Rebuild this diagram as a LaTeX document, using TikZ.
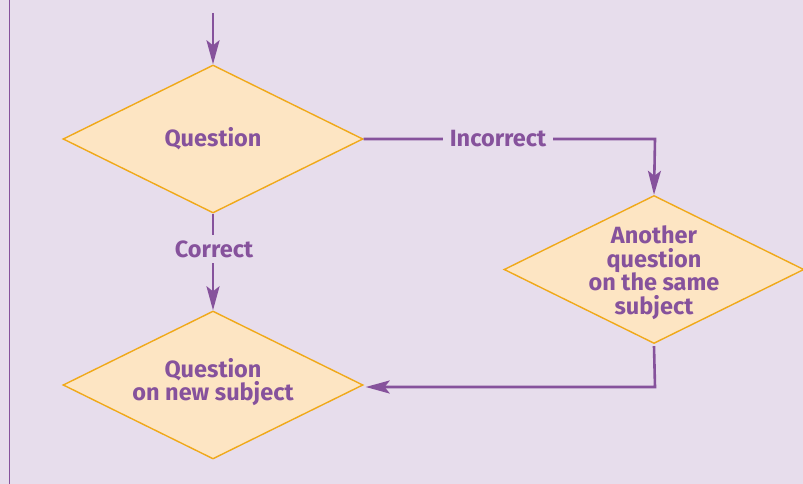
\documentclass[tikz,border=0pt]{standalone}
\usepackage{fontspec}
\setmainfont{Fira Sans}
\usetikzlibrary{shapes.geometric,arrows.meta}
\definecolor{bgc}{HTML}{E7DDEC}
\definecolor{purp}{HTML}{86529C}
\definecolor{dfill}{HTML}{FDE5C3}
\definecolor{dline}{HTML}{F0A91A}
\begin{document}
\begin{tikzpicture}[x=1pt,y=-1pt,
  dia/.style={diamond,draw=dline,fill=dfill,line width=1.4pt,inner sep=0pt,
    minimum width=300pt,minimum height=148pt},
  txt/.style={text=purp,font=\bfseries\fontsize{23.5}{23.5}\selectfont,align=center,inner sep=0pt},
  conn/.style={draw=purp,line width=2.6pt,-{Stealth[length=24pt,width=13pt,inset=5pt]}},
  lbl/.style={txt,fill=bgc,inner xsep=7pt,inner ysep=5pt}]
\fill[bgc] (0,0) rectangle (803,484);
\useasboundingbox (0,0) rectangle (803,484);
\draw[purp,line width=1.5pt] (9.5,0) -- (9.5,484);
\node[dia] (q1) at (213,139) {};
\node[txt] at (q1) {Question};
\node[dia] (q2) at (213,385) {};
\node[txt] at ([yshift=3pt]q2.center) {Question\\on new subject};
\node[dia] (q3) at (654,269.5) {};
\node[txt] at ([yshift=-3pt]q3.center) {Another\\question\\on the same\\subject};
\coordinate (start) at (213,13);
\coordinate (c1) at (655,139);
\coordinate (c2) at (655,387);
\draw[conn] (start) -- (q1.north);
\draw[conn] (q1.east) -- (c1) -- (q3.north);
\draw[conn] (q1.south) -- (q2.north);
\draw[conn] ([yshift=-2pt]q3.south) -- (c2) -- ([xshift=2pt]q2.east |- c2);
\node[lbl] (inc) at (498,139) {Incorrect};
\node[lbl] (cor) at (214,249) {Correct};
\end{tikzpicture}
\end{document}
